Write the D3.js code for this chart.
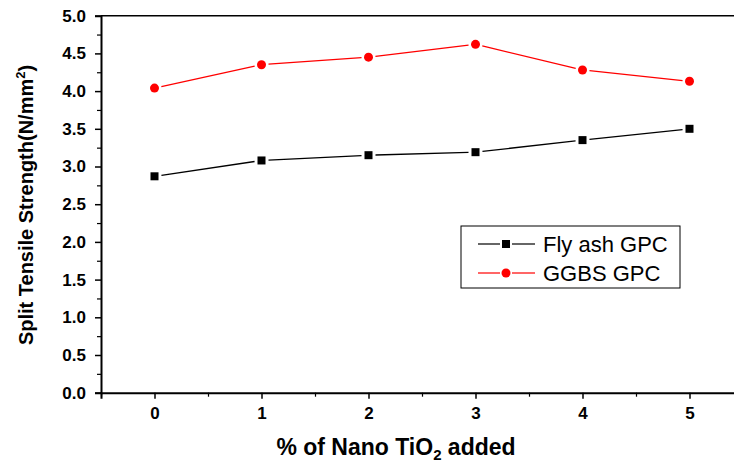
<!DOCTYPE html>
<html lang="en">
<head>
  <meta charset="UTF-8">
  <title>Split Tensile Strength</title>
  <script src="https://cdn.jsdelivr.net/npm/d3@7"></script>
  <style>
    body { margin: 0; background: #fff; }
    text { font-family: Arial, "Liberation Sans", sans-serif; }
  </style>
</head>
<body>
  <script>
    // data
    const nanoTiO2 = [0, 1, 2, 3, 4, 5];
    const flyAsh = [2.87, 3.08, 3.15, 3.19, 3.35, 3.50];
    const ggbs = [4.04, 4.35, 4.45, 4.62, 4.28, 4.13];
    const yTicks = [0, 0.5, 1, 1.5, 2, 2.5, 3, 3.5, 4, 4.5, 5];

    const series = [
      {name: 'Fly ash GPC', values: flyAsh, color: '#000', shape: 'square'},
      {name: 'GGBS GPC', values: ggbs, color: '#f00', shape: 'circle'}
    ];

    const W = 734, H = 466;
    const svg = d3.select('body').append('svg')
      .attr('width', W).attr('height', H);

    const x = d3.scaleLinear().domain([-0.5, 5.5]).range([101, 743]);
    const y = d3.scaleLinear().domain([0, 5]).range([392.7, 15.7]);

    // frame
    svg.append('line').attr('x1', 101).attr('x2', 743).attr('y1', y(5)).attr('y2', y(5))
      .attr('stroke', '#000').attr('stroke-width', 1.5);

    // x axis
    const xAxis = svg.append('g').attr('transform', `translate(0,${y(0)})`)
      .call(d3.axisBottom(x).tickValues(nanoTiO2).tickFormat(d3.format('d')).tickSize(6).tickPadding(8));
    xAxis.select('.domain').attr('stroke-width', 2);
    xAxis.selectAll('.tick line').attr('stroke-width', 1.5);
    xAxis.selectAll('text').attr('font-size', 17).attr('font-weight', 'bold').attr('fill', '#000');
    svg.append('g').attr('transform', `translate(0,${y(0)})`)
      .call(d3.axisBottom(x).tickValues([-0.5, 0.5, 1.5, 2.5, 3.5, 4.5]).tickFormat('').tickSize(4))
      .call(g => g.select('.domain').remove())
      .selectAll('.tick line').attr('stroke-width', 1.2);

    // y axis
    const yAxis = svg.append('g').attr('transform', 'translate(101,0)')
      .call(d3.axisLeft(y).tickValues(yTicks).tickFormat(d3.format('.1f')).tickSize(6).tickPadding(9));
    yAxis.select('.domain').attr('stroke-width', 2);
    yAxis.selectAll('.tick line').attr('stroke-width', 1.5);
    yAxis.selectAll('text').attr('font-size', 17).attr('font-weight', 'bold').attr('fill', '#000');
    svg.append('g').attr('transform', 'translate(101,0)')
      .call(d3.axisLeft(y).tickValues(d3.range(0.25, 5, 0.5)).tickFormat('').tickSize(4))
      .call(g => g.select('.domain').remove())
      .selectAll('.tick line').attr('stroke-width', 1.2);

    // axis titles
    const yt = svg.append('text')
      .attr('transform', 'translate(33,205) rotate(-90)')
      .attr('text-anchor', 'middle').attr('font-size', 20).attr('font-weight', 'bold');
    yt.append('tspan').text('Split Tensile Strength(N/mm');
    yt.append('tspan').attr('dy', -8).attr('font-size', 13).text('2');
    yt.append('tspan').attr('dy', 8).text(')');

    const xt = svg.append('text')
      .attr('x', 396).attr('y', 455)
      .attr('text-anchor', 'middle').attr('font-size', 23).attr('font-weight', 'bold');
    xt.append('tspan').text('% of Nano TiO');
    xt.append('tspan').attr('dy', 5).attr('font-size', 15).text('2');
    xt.append('tspan').attr('dy', -5).text(' added');

    // lines with a small gap round each marker
    const gap = 7;
    function drawSeries(s) {
      const pts = s.values.map((v, i) => [x(nanoTiO2[i]), y(v)]);
      const g = svg.append('g');
      for (let i = 0; i < pts.length - 1; i++) {
        const [x1, y1] = pts[i], [x2, y2] = pts[i + 1];
        const len = Math.hypot(x2 - x1, y2 - y1);
        const ux = (x2 - x1) / len, uy = (y2 - y1) / len;
        g.append('line')
          .attr('x1', x1 + ux * gap).attr('y1', y1 + uy * gap)
          .attr('x2', x2 - ux * gap).attr('y2', y2 - uy * gap)
          .attr('stroke', s.color).attr('stroke-width', 1.3);
      }
      pts.forEach(p => marker(g, p[0], p[1], s));
    }
    function marker(g, cx, cy, s) {
      if (s.shape === 'square') {
        g.append('rect').attr('x', cx - 4).attr('y', cy - 4)
          .attr('width', 8).attr('height', 8).attr('fill', s.color);
      } else {
        g.append('circle').attr('cx', cx).attr('cy', cy).attr('r', 4.5).attr('fill', s.color);
      }
    }
    series.forEach(drawSeries);

    // legend
    const lg = svg.append('g');
    lg.append('rect').attr('x', 461).attr('y', 226).attr('width', 219).attr('height', 62)
      .attr('fill', '#fff').attr('stroke', '#000').attr('stroke-width', 1);
    series.forEach((s, i) => {
      const ly = 244 + i * 29;
      lg.append('line').attr('x1', 478).attr('x2', 500).attr('y1', ly).attr('y2', ly)
        .attr('stroke', s.color).attr('stroke-width', 1.2);
      lg.append('line').attr('x1', 512).attr('x2', 535).attr('y1', ly).attr('y2', ly)
        .attr('stroke', s.color).attr('stroke-width', 1.2);
      marker(lg, 506, ly, s);
      lg.append('text').attr('x', 543).attr('y', ly + 8).attr('font-size', 22).text(s.name);
    });
  </script>
</body>
</html>
